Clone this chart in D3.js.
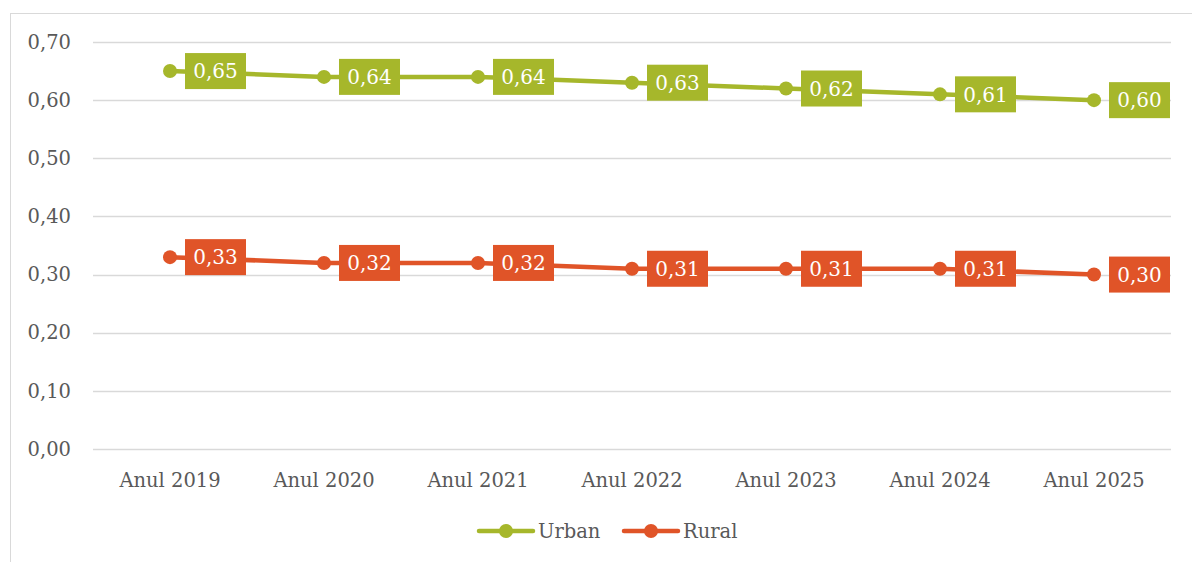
<!DOCTYPE html>
<html>
<head>
<meta charset="utf-8">
<script src="https://cdn.jsdelivr.net/npm/d3@7"></script>
<style>
  html, body { margin: 0; padding: 0; background: #fff; }
  svg { display: block; }
</style>
</head>
<body>
<svg id="chart" width="1192" height="562"></svg>
<script>
// Years on the horizontal axis
const categories = ["Anul 2019", "Anul 2020", "Anul 2021", "Anul 2022", "Anul 2023", "Anul 2024", "Anul 2025"];
// Series values
const urbanValues = [0.65, 0.64, 0.64, 0.63, 0.62, 0.61, 0.60];
const ruralValues = [0.33, 0.32, 0.32, 0.31, 0.31, 0.31, 0.30];
// Vertical axis ticks
const yTicks = [0, 0.1, 0.2, 0.3, 0.4, 0.5, 0.6, 0.7];

const series = [
  { name: "Urban", values: urbanValues, color: "#a6b72b" },
  { name: "Rural", values: ruralValues, color: "#e05428" }
];

const fmt = v => v.toFixed(2).replace(".", ",");
const font = "'DejaVu Serif', 'Liberation Serif', serif";

const svg = d3.select("#chart");

// outer frame
svg.append("rect")
  .attr("x", 10.5).attr("y", 13.5)
  .attr("width", 1200).attr("height", 600)
  .attr("fill", "none").attr("stroke", "#d9d9d9").attr("stroke-width", 1);

const plot = { left: 93, right: 1171, top: 42, bottom: 449 };

const x = d3.scaleBand().domain(categories).range([plot.left, plot.right]);
const y = d3.scaleLinear().domain([0, 0.7]).range([plot.bottom, plot.top]);

// gridlines
svg.append("g")
  .selectAll("line")
  .data(yTicks)
  .join("line")
  .attr("x1", plot.left).attr("x2", plot.right)
  .attr("y1", d => Math.round(y(d)) + 0.5).attr("y2", d => Math.round(y(d)) + 0.5)
  .attr("stroke", "#d9d9d9").attr("stroke-width", 1.5);

// y axis labels
const yAxis = d3.axisLeft(y).tickValues(yTicks).tickFormat(fmt).tickSize(0).tickPadding(22);
const gy = svg.append("g").attr("transform", `translate(${plot.left},0)`).call(yAxis);
gy.select(".domain").remove();
gy.selectAll("text").attr("font-family", font).attr("font-size", 19.5).attr("fill", "#595959");

// x axis labels
const xAxis = d3.axisBottom(x).tickSize(0).tickPadding(24);
const gx = svg.append("g").attr("transform", `translate(0,${plot.bottom})`).call(xAxis);
gx.select(".domain").remove();
gx.selectAll("text").attr("font-family", font).attr("font-size", 19.5).attr("fill", "#595959");

const cx = c => x(c) + x.bandwidth() / 2;

const line = d3.line()
  .x((d, i) => cx(categories[i]))
  .y(d => y(d));

series.forEach(s => {
  const g = svg.append("g");
  g.append("path")
    .datum(s.values)
    .attr("d", line)
    .attr("fill", "none")
    .attr("stroke", s.color)
    .attr("stroke-width", 4.5)
    .attr("stroke-linejoin", "round")
    .attr("stroke-linecap", "round");

  g.selectAll("circle")
    .data(s.values)
    .join("circle")
    .attr("cx", (d, i) => cx(categories[i]))
    .attr("cy", d => y(d))
    .attr("r", 7)
    .attr("fill", s.color);

  // value labels in filled boxes to the right of each point
  const lab = g.selectAll("g.lab")
    .data(s.values)
    .join("g")
    .attr("class", "lab")
    .attr("transform", (d, i) => `translate(${cx(categories[i]) + 15},${y(d)})`);

  lab.append("rect")
    .attr("x", 0).attr("y", -18)
    .attr("width", 61).attr("height", 36)
    .attr("fill", s.color);

  lab.append("text")
    .attr("x", 30.5).attr("y", 0)
    .attr("dy", "0.36em")
    .attr("text-anchor", "middle")
    .attr("font-family", font)
    .attr("font-size", 20)
    .attr("fill", "#fff")
    .text(fmt);
});

// legend
const legend = svg.append("g");
const legendItems = [
  { s: series[0], x0: 479 },
  { s: series[1], x0: 624 }
];
legendItems.forEach(({ s, x0 }) => {
  const ly = 531;
  legend.append("line")
    .attr("x1", x0).attr("x2", x0 + 54)
    .attr("y1", ly).attr("y2", ly)
    .attr("stroke", s.color).attr("stroke-width", 4.5)
    .attr("stroke-linecap", "round");
  legend.append("circle")
    .attr("cx", x0 + 27).attr("cy", ly).attr("r", 7)
    .attr("fill", s.color);
  legend.append("text")
    .attr("x", x0 + 59).attr("y", ly)
    .attr("dy", "0.35em")
    .attr("font-family", font)
    .attr("font-size", 19.5)
    .attr("fill", "#595959")
    .text(s.name);
});
</script>
</body>
</html>
